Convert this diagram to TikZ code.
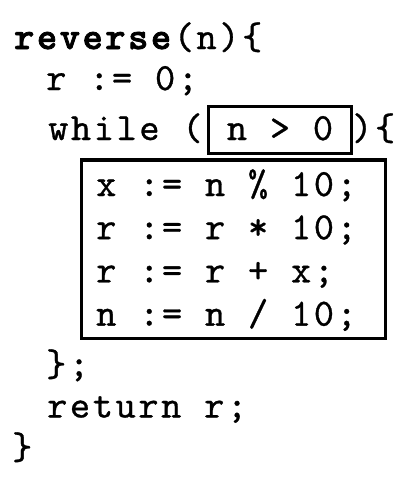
\documentclass[tikz,border=0pt]{standalone}
\usepackage{fontspec}
\setmonofont{lmmono10-regular.otf}[BoldFont=lmmonolt10-bold.otf,LetterSpace=6.7,UprightFeatures={FakeBold=0.8},BoldFeatures={FakeBold=2}]
\usepackage{tikz}

\begin{document}
\begin{tikzpicture}[x=1pt,y=-1pt]
	\tikzstyle{every node}=[inner sep=0pt,font=\fontsize{38.5}{43}\selectfont\ttfamily]
	\tikzstyle{codeline}=[anchor=base west]
	\tikzstyle{condbox}=[draw,line width=3.5pt,anchor=base,minimum width=143pt,text height=33.5pt,text depth=13.5pt]
	\tikzstyle{bodybox}=[draw,line width=3.5pt,minimum width=304pt,minimum height=178.5pt]
	\useasboundingbox (0,0) rectangle (411,480);
	% header and first statement
	\node[codeline] (head) at (14,49) {\textbf{reverse}(n)\{};
	\node[codeline] (init) at (46,90) {r := 0;};
	% loop with its condition
	\node[codeline] (while) at (48,140) {while (};
	\node[condbox] (cond) at (280,140) {n > 0};
	\node[codeline] (open) at (352,140) {)\{};
	% loop body
	\node[bodybox] (body) at (233.5,249.25) {};
	\node[codeline] (digit) at (96,196) {x := n \% 10;};
	\node[codeline] (shift) at (96,239.2) {r := r * 10;};
	\node[codeline] (add) at (96,282.4) {r := r + x;};
	\node[codeline] (cut) at (96,325.6) {n := n / 10;};
	% end of loop and function
	\node[codeline] (close) at (46,376) {\};};
	\node[codeline] (ret) at (47,417.5) {return r;};
	\node[codeline] (end) at (12,459) {\}};
\end{tikzpicture}
\end{document}
